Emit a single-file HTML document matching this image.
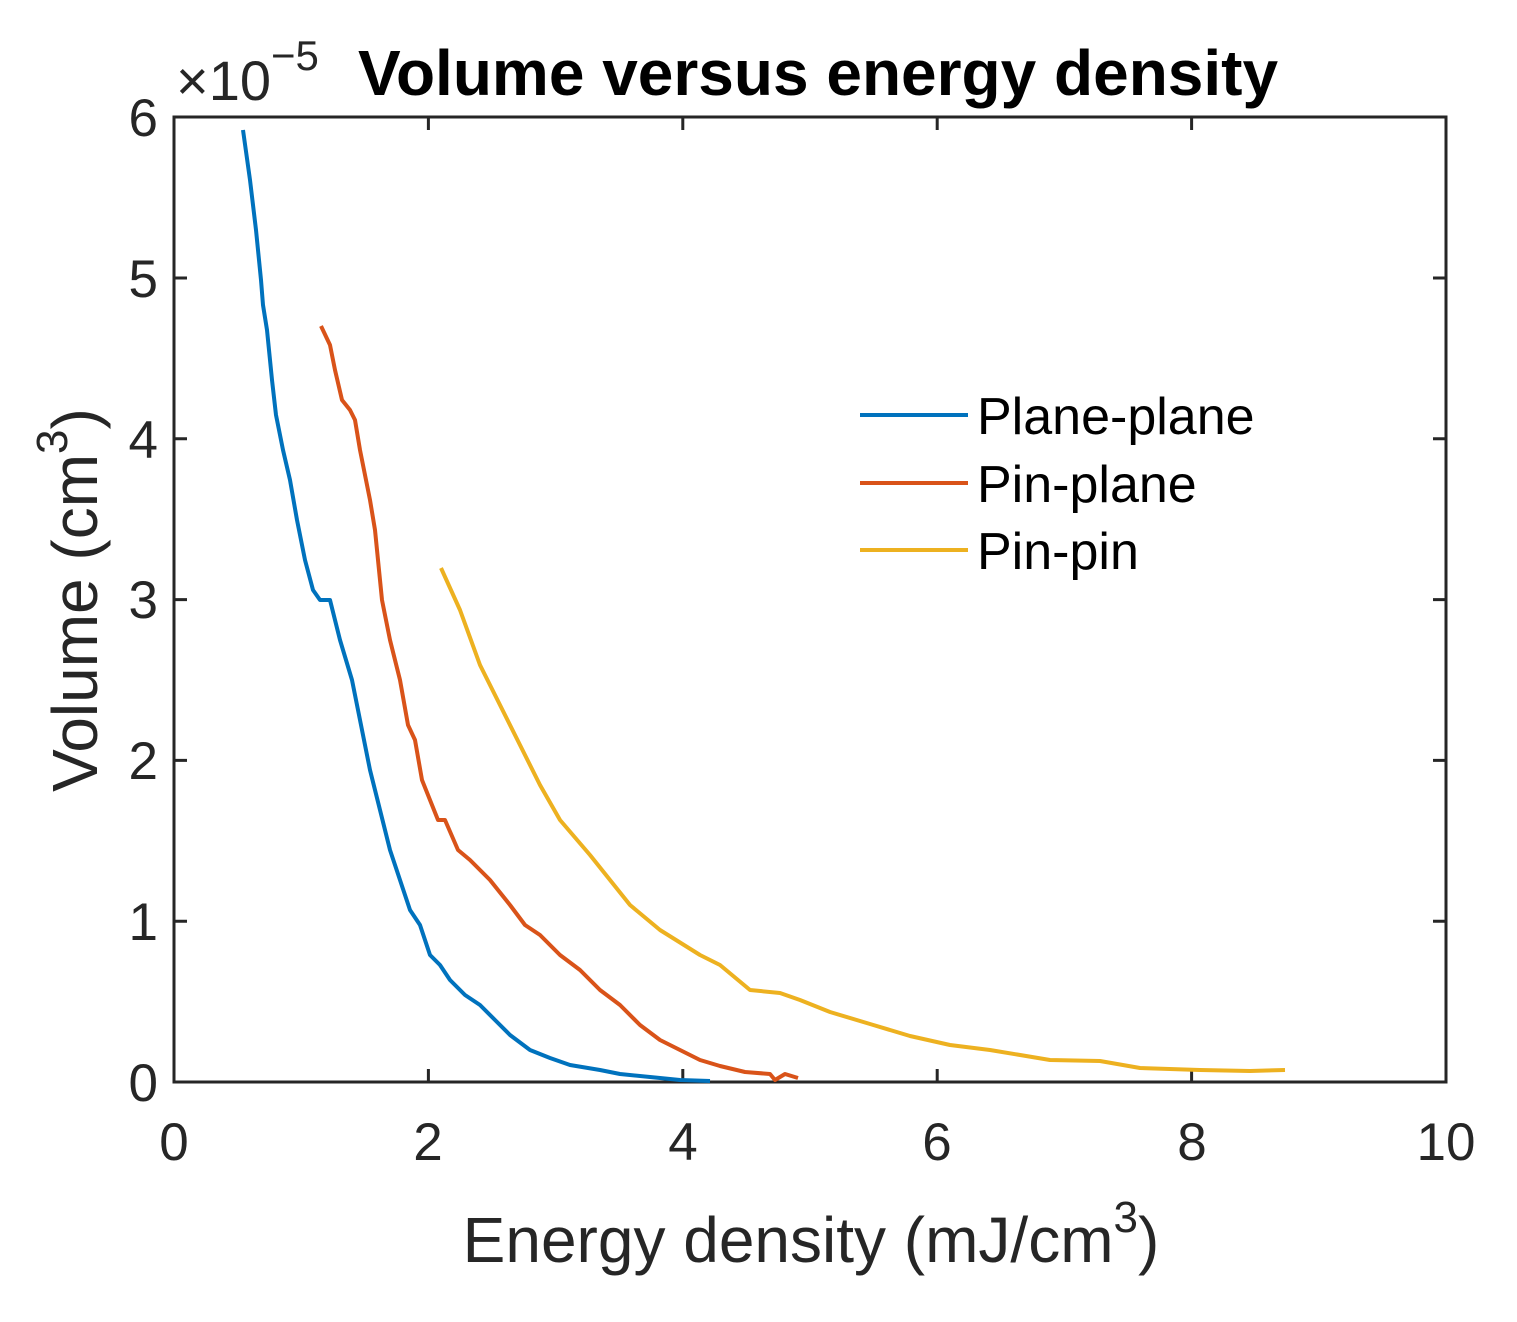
<!DOCTYPE html>
<html><head><meta charset="utf-8"><style>html,body{margin:0;padding:0;background:#fff;}svg{display:block;}</style></head>
<body>
<svg width="1517" height="1322" xmlns="http://www.w3.org/2000/svg" font-family="Liberation Sans, Arial, sans-serif">
<rect width="1517" height="1322" fill="#fff"/>
<g stroke="#262626" stroke-width="3" fill="none">
<rect x="174" y="117" width="1272" height="965"/>
<path d="M428.4 1082v-13M682.8 1082v-13M937.2 1082v-13M1191.6 1082v-13M428.4 117v13M682.8 117v13M937.2 117v13M1191.6 117v13"/>
<path d="M174 921.2h13M174 760.4h13M174 599.6h13M174 438.8h13M174 278h13M1446 921.2h-13M1446 760.4h-13M1446 599.6h-13M1446 438.8h-13M1446 278h-13"/>
</g>
<g font-size="53" fill="#262626" text-anchor="middle">
<text x="174" y="1160">0</text><text x="428" y="1160">2</text><text x="683" y="1160">4</text><text x="937" y="1160">6</text><text x="1192" y="1160">8</text><text x="1446" y="1160">10</text>
</g>
<g font-size="53" fill="#262626" text-anchor="end">
<text x="158" y="1101">0</text><text x="158" y="940">1</text><text x="158" y="779">2</text><text x="158" y="618">3</text><text x="158" y="458">4</text><text x="158" y="297">5</text><text x="158" y="136">6</text>
</g>
<text x="176" y="100" font-size="56" fill="#262626">×10<tspan dy="-30" font-size="42">−5</tspan></text>
<text x="358" y="95" font-size="64" font-weight="bold" fill="#000">Volume versus energy density</text>
<text x="811" y="1262" font-size="64" fill="#262626" text-anchor="middle">Energy density (mJ/cm<tspan dy="-30" font-size="44">3</tspan><tspan dy="30">)</tspan></text>
<text transform="translate(97,600) rotate(-90)" font-size="64" fill="#262626" text-anchor="middle">Volume (cm<tspan dy="-30" font-size="44">3</tspan><tspan dy="30">)</tspan></text>
<g fill="none" stroke-width="4" stroke-linejoin="round">
<polyline stroke="#0072BD" points="243,130 250,180 256,230 261,280 263,305 267,330 272,380 276,415 283,450 290,480 297,520 305,560 313,590 320,600 330,600 340,640 352,680 360,720 370,770 380,810 390,850 400,880 410,910 420,925 430,955 440,965 450,980 465,995 480,1005 495,1020 510,1035 530,1050 550,1058 570,1065 600,1070 620,1074 650,1077 680,1080 710,1081"/>
<polyline stroke="#D95319" points="321,326 330,345 335,370 342,400 350,410 355,420 360,450 370,500 375,530 382,600 390,640 400,680 408,725 415,740 422,780 430,800 438,820 445,820 458,850 470,860 490,880 510,905 525,925 540,935 560,955 580,970 600,990 620,1005 640,1025 660,1040 680,1050 700,1060 720,1066 745,1072 770,1074 775,1080 785,1074 798,1078"/>
<polyline stroke="#EDB120" points="441,568 460,610 480,665 500,705 520,745 540,785 560,820 590,855 630,905 660,930 700,955 720,965 750,990 780,993 800,1000 830,1012 870,1024 910,1036 950,1045 990,1050 1050,1060 1100,1061 1140,1068 1200,1070 1250,1071 1285,1070"/>
<path stroke="#0072BD" d="M860 415H968"/>
<path stroke="#D95319" d="M860 483H968"/>
<path stroke="#EDB120" d="M860 550H968"/>
</g>
<g font-size="52" fill="#000">
<text x="977" y="434">Plane-plane</text>
<text x="977" y="502">Pin-plane</text>
<text x="977" y="569">Pin-pin</text>
</g>
</svg>
</body></html>
